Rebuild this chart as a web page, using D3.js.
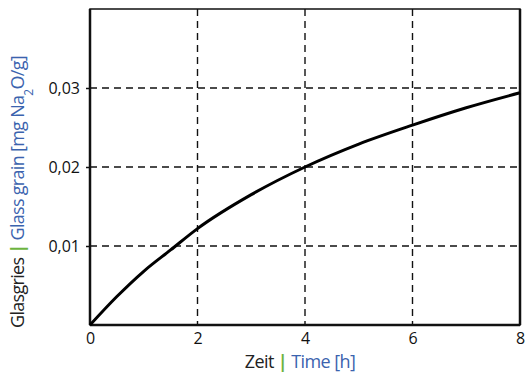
<!DOCTYPE html>
<html>
<head>
<meta charset="utf-8">
<script src="https://cdn.jsdelivr.net/npm/d3@7"></script>
<style>
  body { margin: 0; background: #fff; }
  text { font-family: 'Open Sans', 'Noto Sans', sans-serif; }
</style>
</head>
<body>
<div id="chart"></div>
<script>
// Data
var hours = [0, 0.5, 1, 1.5, 2, 3, 4, 5, 6, 7, 8]
var glassGrain = [0, 0.0036, 0.0068, 0.0095, 0.0122, 0.0165, 0.0200, 0.0229, 0.0253, 0.0275, 0.0294]
var xTicks = [0, 2, 4, 6, 8]
var yTicks = [0.01, 0.02, 0.03]

var margin = { top: 9, left: 90, right: 5, bottom: 66 }
var width = 525 - margin.left - margin.right
var height = 391 - margin.top - margin.bottom

var svg = d3.select('#chart')
  .append('svg')
  .attr('width', 525)
  .attr('height', 391)

var g = svg.append('g')
  .attr('transform', `translate(${margin.left},${margin.top})`)

var xPositionScale = d3.scaleLinear().domain([0, 8]).range([0, width])
var yPositionScale = d3.scaleLinear().domain([0, 0.04]).range([height, 0])

// grid lines
g.selectAll('.vgrid')
  .data(xTicks.filter(d => d > 0 && d < 8))
  .enter()
  .append('line')
  .attr('x1', d => xPositionScale(d))
  .attr('x2', d => xPositionScale(d))
  .attr('y1', 0)
  .attr('y2', height)
  .attr('stroke', '#111')
  .attr('stroke-width', 1.4)
  .attr('stroke-dasharray', '7,5')

g.selectAll('.hgrid')
  .data(yTicks)
  .enter()
  .append('line')
  .attr('x1', 0)
  .attr('x2', width)
  .attr('y1', d => yPositionScale(d))
  .attr('y2', d => yPositionScale(d))
  .attr('stroke', '#111')
  .attr('stroke-width', 1.4)
  .attr('stroke-dasharray', '7,5')

// frame
g.append('rect')
  .attr('x', 0)
  .attr('y', 0)
  .attr('width', width)
  .attr('height', height)
  .attr('fill', 'none')
  .attr('stroke', '#111')
  .attr('stroke-width', 1.5)

g.append('line')
  .attr('x1', 0).attr('x2', 0)
  .attr('y1', 0).attr('y2', height)
  .attr('stroke', '#111').attr('stroke-width', 2.5)
g.append('line')
  .attr('x1', width).attr('x2', width)
  .attr('y1', 0).attr('y2', height)
  .attr('stroke', '#111').attr('stroke-width', 2.5)
g.append('line')
  .attr('x1', 0).attr('x2', width)
  .attr('y1', height).attr('y2', height)
  .attr('stroke', '#111').attr('stroke-width', 2.5)

// axes
var xAxis = d3.axisBottom(xPositionScale).tickValues(xTicks).tickSize(0).tickPadding(8)
var xg = g.append('g')
  .attr('class', 'axis x-axis')
  .attr('transform', 'translate(0,' + height + ')')
  .call(xAxis)

var yAxis = d3.axisLeft(yPositionScale)
  .tickValues(yTicks)
  .tickSize(4)
  .tickPadding(6)
  .tickFormat(d => d3.format('.2f')(d).replace('.', ','))
var yg = g.append('g')
  .attr('class', 'axis y-axis')
  .call(yAxis)

svg.selectAll('.axis .domain').remove()
svg.selectAll('.axis line').attr('stroke', '#111').attr('stroke-width', 1.5)
svg.selectAll('.axis text')
  .style('font-size', '16px')
  .attr('fill', '#111')
  .style('font-family', "'Open Sans', sans-serif")

// curve
var line = d3.line()
  .x((d, i) => xPositionScale(hours[i]))
  .y(d => yPositionScale(d))
  .curve(d3.curveMonotoneX)

g.append('path')
  .datum(glassGrain)
  .attr('d', line)
  .attr('fill', 'none')
  .attr('stroke', '#000')
  .attr('stroke-width', 3)

// axis titles
var xTitle = svg.append('text')
  .attr('x', 300)
  .attr('y', 368)
  .attr('text-anchor', 'middle')
  .style('font-size', '18px')
  .style('letter-spacing', '-0.6px')
xTitle.append('tspan').attr('fill', '#222').text('Zeit ')
xTitle.append('tspan').attr('fill', '#6db33f').attr('font-weight', 'bold').text('|')
xTitle.append('tspan').attr('fill', '#3b63ae').text(' Time [h]')

var yTitle = svg.append('text')
  .attr('transform', 'translate(24,192) rotate(-90)')
  .attr('text-anchor', 'middle')
  .style('font-size', '18px')
  .style('letter-spacing', '-0.7px')
yTitle.append('tspan').attr('fill', '#222').text('Glasgries ')
yTitle.append('tspan').attr('fill', '#6db33f').attr('font-weight', 'bold').text('|')
yTitle.append('tspan').attr('fill', '#3b63ae').text(' Glass grain [mg Na')
yTitle.append('tspan').attr('fill', '#3b63ae').attr('baseline-shift', 'sub').style('font-size', '12px').text('2')
yTitle.append('tspan').attr('fill', '#3b63ae').text('O/g]')
</script>
</body>
</html>
